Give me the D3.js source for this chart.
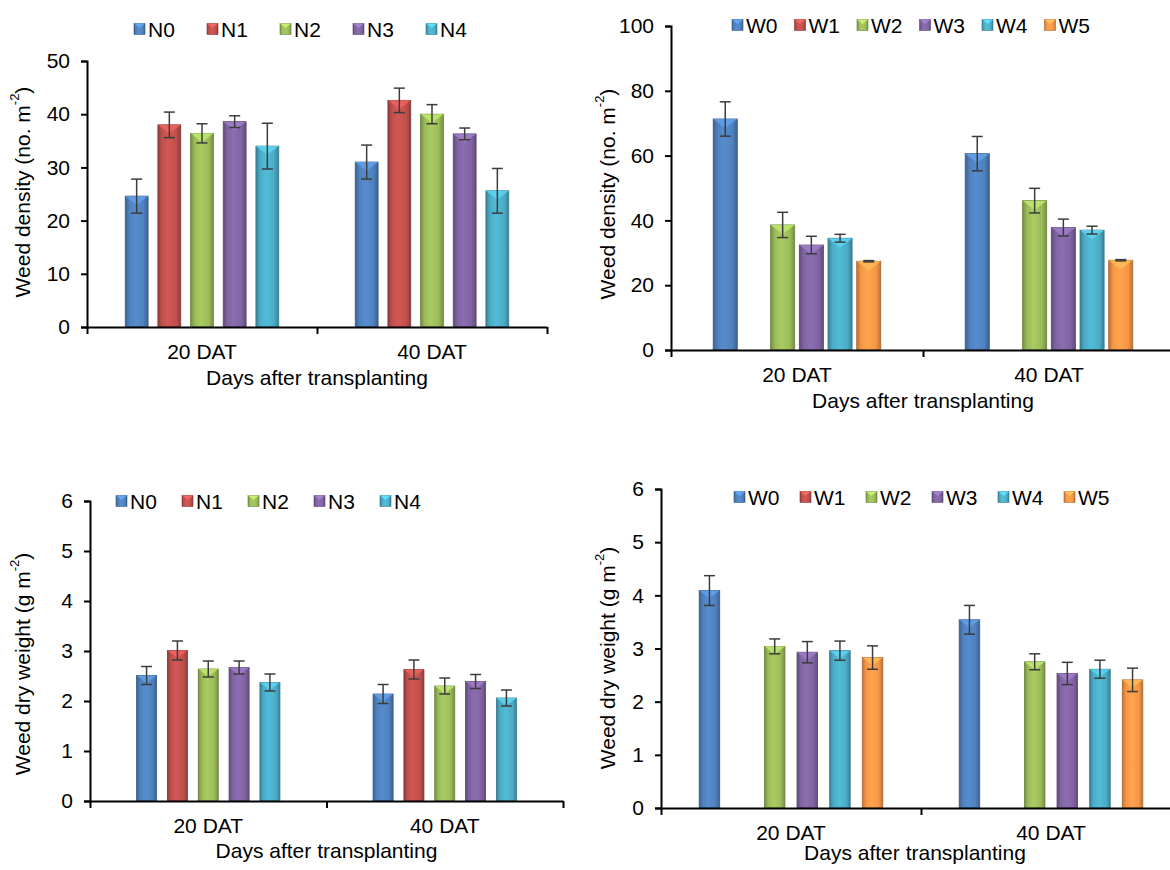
<!DOCTYPE html>
<html>
<head>
<meta charset="utf-8">
<script src="https://cdn.jsdelivr.net/npm/d3@7"></script>
<style>
  body { margin: 0; background: #fff; }
  text { font-family: "Liberation Sans", Arial, sans-serif; fill: #000; }
</style>
</head>
<body>
<div id="chart"></div>
<script>
// categories and series
const days = ["20 DAT", "40 DAT"];
const nSeries = ["N0", "N1", "N2", "N3", "N4"];
const wSeries = ["W0", "W1", "W2", "W3", "W4", "W5"];
const nColors = ["#4F81BD", "#C0504D", "#9BBB59", "#8064A2", "#4BACC6"];
const wColors = ["#4F81BD", "#C0504D", "#9BBB59", "#8064A2", "#4BACC6", "#F79646"];

// weed density, one row per day
const densityN = [[24.6, 38.0, 36.4, 38.6, 34.0], [31.0, 42.6, 40.0, 36.3, 25.6]];
const densityNErr = [[3.2, 2.4, 1.8, 1.1, 4.3], [3.2, 2.3, 1.8, 1.1, 4.2]];
const densityW = [[71.3, 0, 38.6, 32.4, 34.5, 27.4], [60.6, 0, 46.1, 37.8, 37.0, 27.7]];
const densityWErr = [[5.3, 0, 3.9, 2.7, 1.2, 0.2], [5.3, 0, 3.8, 2.6, 1.2, 0.2]];

// weed dry weight
const dryN = [[2.51, 3.01, 2.64, 2.67, 2.37], [2.14, 2.63, 2.30, 2.39, 2.06]];
const dryNErr = [[0.18, 0.19, 0.16, 0.13, 0.17], [0.19, 0.19, 0.16, 0.14, 0.16]];
const dryW = [[4.09, 0, 3.04, 2.93, 2.96, 2.83], [3.54, 0, 2.75, 2.53, 2.61, 2.41]];
const dryWErr = [[0.28, 0, 0.14, 0.20, 0.18, 0.22], [0.27, 0, 0.15, 0.21, 0.17, 0.22]];

const yTitleDensity = "Weed density (no. m";
const yTitleDry = "Weed dry weight (g m";
const xTitle = "Days after transplanting";

const svg = d3.select("#chart").append("svg")
  .attr("width", 1170).attr("height", 870);
const defs = svg.append("defs");

// horizontal shading gradient per colour
function gradId(c) {
  const id = "g" + c.slice(1);
  if (defs.select("#" + id).empty()) {
    const g = defs.append("linearGradient").attr("id", id)
      .attr("x1", 0).attr("x2", 1).attr("y1", 0).attr("y2", 0);
    const base = d3.color(c);
    [[0, base.darker(0.8)], [0.18, base], [0.45, base.brighter(0.25)], [0.8, base], [1, base.darker(0.8)]]
      .forEach(s => g.append("stop").attr("offset", s[0]).attr("stop-color", s[1]));
  }
  return "url(#" + id + ")";
}

function panel(o) {
  const g = svg.append("g").attr("transform", `translate(${o.left},${o.top})`);
  const h = o.bottom - o.top;

  const y = d3.scaleLinear().domain([0, o.ymax]).range([h, 0]);
  const x0 = d3.scaleBand().domain(days).range([0, o.width]);
  const x1 = d3.scaleBand().domain(o.series).range([0, x0.bandwidth()])
    .paddingInner(o.pi).paddingOuter(o.po);
  const bw = x1.bandwidth();

  // bars
  days.forEach((d, di) => {
    const gg = g.append("g").attr("transform", `translate(${x0(d)},0)`);
    o.series.forEach((s, si) => {
      const v = o.values[di][si], e = o.errors[di][si];
      const c = o.colors[si];
      const bx = x1(s), by = y(v);
      gg.append("rect")
        .attr("x", bx).attr("y", by).attr("width", bw).attr("height", h - by)
        .attr("fill", gradId(c))
        .attr("stroke", v > 0 ? d3.color(c).darker(1) : "#999")
        .attr("stroke-width", 0.8);
      if (v > 0) {
        const th = Math.min(bw * 0.38, h - by);
        gg.append("path")
          .attr("d", `M${bx},${by}L${bx + bw},${by}L${bx + bw / 2},${by + th}Z`)
          .attr("fill", d3.color(c).brighter(0.6)).attr("opacity", 0.85);
        // error bar
        const cx = bx + bw / 2;
        const eg = gg.append("g").attr("stroke", "#3c3c3c").attr("stroke-width", 1.5);
        eg.append("line").attr("x1", cx).attr("x2", cx).attr("y1", y(v + e)).attr("y2", y(v - e));
        eg.append("line").attr("x1", cx - 5.5).attr("x2", cx + 5.5).attr("y1", y(v + e)).attr("y2", y(v + e));
        eg.append("line").attr("x1", cx - 5.5).attr("x2", cx + 5.5).attr("y1", y(v - e)).attr("y2", y(v - e));
      }
    });
  });

  // y axis
  const ya = g.append("g")
    .call(d3.axisLeft(y).tickValues(d3.range(0, o.ymax + o.ystep / 2, o.ystep))
      .tickFormat(d3.format("d")).tickSize(6).tickPadding(11))
    .attr("font-size", 21).attr("font-family", "Liberation Sans, Arial, sans-serif");
  ya.selectAll("path, line").attr("stroke", "#000").attr("stroke-width", 2);
  ya.selectAll("text").attr("fill", "#000");

  // x axis: ticks on category boundaries, labels at centres
  const xb = d3.scaleLinear().domain([0, days.length]).range([0, o.width]);
  const xa = g.append("g").attr("transform", `translate(0,${h})`)
    .call(d3.axisBottom(xb).tickValues(d3.range(0, days.length + 1)).tickFormat("").tickSizeInner(7).tickSizeOuter(0));
  xa.selectAll("path, line").attr("stroke", "#000").attr("stroke-width", 2);
  const xl = g.append("g").attr("transform", `translate(0,${h})`)
    .call(d3.axisBottom(x0).tickSize(0).tickPadding(17))
    .attr("font-size", 21).attr("font-family", "Liberation Sans, Arial, sans-serif");
  xl.select(".domain").remove();
  xl.selectAll("text").attr("fill", "#000");

  // titles
  g.append("text")
    .attr("x", o.width * 0.5 + (o.xTitleDx || 0)).attr("y", h + o.xTitleDy)
    .attr("text-anchor", "middle").attr("font-size", 21).text(xTitle);
  const yt = g.append("text")
    .attr("transform", `translate(${o.yTitleX},${o.yTitleY}) rotate(-90)`)
    .attr("text-anchor", "middle").attr("dominant-baseline", "middle")
    .attr("font-size", 21);
  yt.append("tspan").text(o.yTitle);
  yt.append("tspan").attr("font-size", 13).attr("dy", -8).text("-2");
  yt.append("tspan").attr("dy", 8).text(")");

  // legend
  const lg = svg.append("g").attr("transform", `translate(${o.legendX},${o.legendY})`);
  o.series.forEach((s, i) => {
    const it = lg.append("g").attr("transform", `translate(${i * o.legendStep},0)`);
    const c = o.colors[i];
    it.append("rect").attr("x", 0).attr("y", -5.5).attr("width", 11).attr("height", 11)
      .attr("fill", gradId(c)).attr("stroke", d3.color(c).darker(1)).attr("stroke-width", 0.6);
    it.append("path").attr("d", "M0,-5.5L11,-5.5L5.5,-1Z").attr("fill", d3.color(c).brighter(0.7));
    it.append("text").attr("x", 14).attr("y", 0).attr("dy", "0.36em")
      .attr("font-size", 21).text(s);
  });
}

panel({
  left: 87, top: 61, bottom: 327, width: 460, ymax: 50, ystep: 10,
  series: nSeries, colors: nColors, values: densityN, errors: densityNErr,
  pi: 0.3, po: 1.17, yTitle: yTitleDensity, yTitleX: -63, yTitleY: 131,
  xTitleDy: 58, legendX: 134, legendY: 29, legendStep: 73
});
panel({
  left: 671, top: 26, bottom: 350, width: 504, ymax: 100, ystep: 20,
  series: wSeries, colors: wColors, values: densityW, errors: densityWErr,
  pi: 0.16, po: 1.47, yTitle: yTitleDensity, yTitleX: -62, yTitleY: 168,
  xTitleDy: 58, xTitleDx: 0, legendX: 732, legendY: 25, legendStep: 62.5
});
panel({
  left: 90, top: 501, bottom: 801, width: 473, ymax: 6, ystep: 1,
  series: nSeries, colors: nColors, values: dryN, errors: dryNErr,
  pi: 0.35, po: 1.51, yTitle: yTitleDry, yTitleX: -66, yTitleY: 163,
  xTitleDy: 57, legendX: 116, legendY: 501, legendStep: 66
});
panel({
  left: 661, top: 489, bottom: 808, width: 520, ymax: 6, ystep: 1,
  series: wSeries, colors: wColors, values: dryW, errors: dryWErr,
  pi: 0.37, po: 1.17, yTitle: yTitleDry, yTitleX: -52, yTitleY: 169,
  xTitleDy: 52, xTitleDx: -6, legendX: 734, legendY: 497, legendStep: 66
});
</script>
</body>
</html>
